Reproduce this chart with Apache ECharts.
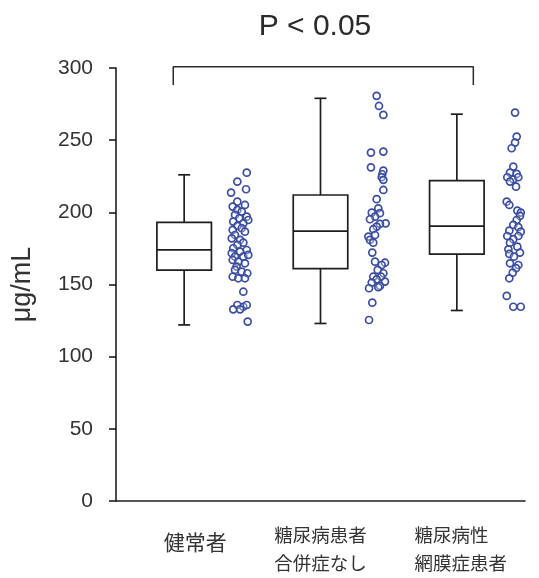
<!DOCTYPE html>
<html>
<head>
<meta charset="utf-8">
<script src="https://cdn.jsdelivr.net/npm/echarts@6/dist/echarts.min.js"></script>
<style>html,body{margin:0;padding:0;background:#fff}#c{width:539px;height:578px}</style>
</head>
<body>
<div id="c"></div>
<script>
// Categories and tick labels
const categories = ['健常者', '糖尿病患者\n合併症なし', '糖尿病性　\n網膜症患者'];
const yTicks = [0, 50, 100, 150, 200, 250, 300];
const titleText = 'P < 0.05';
const yName = 'μg/mL';

// Box statistics: [min, Q1, median, Q3, max]
const boxHealthy = [122, 160, 174, 193, 226];
const boxNoComp = [123, 161, 187, 212, 279];
const boxRetino = [132, 171, 190.5, 222, 268];

// Individual points (x = position on 0..3 band scale, y = value)
const healthyX = [0.959,0.890,0.954,0.844,0.890,0.946,0.856,0.890,0.922,0.873,0.959,0.970,0.904,0.860,0.934,0.890,0.922,0.856,0.946,0.873,0.849,0.910,0.934,0.890,0.860,0.959,0.910,0.849,0.873,0.934,0.970,0.856,0.897,0.946,0.885,0.873,0.922,0.963,0.856,0.897,0.946,0.934,0.890,0.934,0.959,0.860,0.910,0.966];
const healthyY = [227.5,221.3,216,213.7,207.4,205.1,204,201.7,200.5,198.2,197,194.7,195.9,193.6,192.4,190.6,189,187.8,186.6,184.3,182,180.9,179,177.4,175.1,173.9,172.8,171.7,169.3,169.3,170.5,167,165.8,164.7,162.4,160.1,158.9,157.8,155.4,154.3,154.3,145,135.8,134.6,135.8,132.8,132.8,124.3];

const noCompX = [1.912,1.929,1.961,1.870,1.961,1.870,1.961,1.953,1.949,1.961,1.961,1.912,1.924,1.876,1.936,1.900,1.863,1.978,1.936,1.912,1.887,1.851,1.900,1.863,1.887,1.880,1.900,1.973,1.949,1.920,1.961,1.887,1.944,1.912,1.973,1.876,1.936,1.856,1.924,1.880,1.856];
const noCompY = [280.7,273.7,267.5,241.4,242.1,231.2,228.9,226.4,224.3,222.5,215.5,209.1,202.8,199.8,199.4,197,195.2,192.4,192,190.1,188.3,183.2,184.3,180.9,179,172.1,165.8,165.1,163.5,160.1,157.8,155.4,155.4,153.6,152,151.3,149,147.4,148.1,137.4,125.4];

const retinoX = [2.927,2.939,2.927,2.902,2.914,2.890,2.939,2.870,2.914,2.951,2.890,2.934,2.866,2.885,2.944,2.969,2.963,2.939,2.914,2.951,2.885,2.969,2.870,2.951,2.914,2.890,2.944,2.878,2.963,2.885,2.919,2.890,2.951,2.934,2.910,2.885,2.866,2.914,2.969];
const retinoY = [269.1,252.5,248.3,244.4,231.7,227.5,226.6,224.3,222.9,224.3,221.3,217.8,207.4,205.1,201.2,199.8,197.5,194.7,191.3,189.7,187.3,186.6,183.6,183.6,181.4,179,176.2,174.4,172.1,171.2,169.3,164.7,163.5,161.3,158.2,154.3,142.1,134.6,134.6];

// Significance bracket (x on 0..3 band scale, y value)
const bracketX = [0.420, 0.420, 2.621, 2.621];
const bracketY = [288.3, 300.8, 300.8, 288.3];

const boxes = [boxHealthy, boxNoComp, boxRetino];
const boxData = boxes.map((b, i) => [i].concat(b));
const zip = (xs, ys) => xs.map((x, i) => [x, ys[i]]);
const pointData = zip(healthyX, healthyY).concat(zip(noCompX, noCompY), zip(retinoX, retinoY));

const INK = '#1e1e1e';
const JP = '"Noto Sans CJK JP", sans-serif';
const chart = echarts.init(document.getElementById('c'));
chart.setOption({
  animation: false,
  grid: { left: 116, right: 14, top: 68, bottom: 77, containLabel: false },
  graphic: [{
    type: 'text', x: 315, y: 27,
    style: { text: titleText, fill: '#2a2a2a', fontSize: 30, fontFamily: 'Liberation Sans, Arial, sans-serif', align: 'center', verticalAlign: 'middle' }
  }],
  xAxis: [{
    type: 'category', data: categories, boundaryGap: true,
    axisLine: { lineStyle: { color: INK, width: 1.6 } },
    axisTick: { show: false },
    axisLabel: {
      color: '#333', fontSize: 18.5, lineHeight: 28, margin: 20, fontFamily: JP, interval: 0,
      formatter: function (v, i) {
        if (i === 0) return '{a|' + v + '}';
        if (i === 2) return '{c|' + v.split('\n').join('}\n{c|') + '}';
        return v;
      },
      rich: {
        a: { fontSize: 21, color: '#333', fontFamily: JP, padding: [14, 0, 0, 22] },
        c: { fontSize: 18.5, lineHeight: 28, color: '#333', fontFamily: JP, padding: [0, 0, 0, 8] }
      }
    }
  }, {
    type: 'value', min: 0, max: 3, show: false
  }],
  yAxis: {
    type: 'value', min: yTicks[0], max: yTicks[yTicks.length - 1], interval: 50,
    name: yName, nameLocation: 'middle', nameRotate: 90, nameGap: 80,
    nameTextStyle: { color: '#333', fontSize: 27, fontFamily: 'Liberation Sans, Arial, sans-serif' },
    axisLine: { show: true, lineStyle: { color: INK, width: 1.6 } },
    axisTick: { show: true, length: 7, lineStyle: { color: INK, width: 1.6 } },
    axisLabel: { color: '#333', fontSize: 21, margin: 23, fontFamily: 'Liberation Sans, Arial, sans-serif' },
    splitLine: { show: false }
  },
  series: [{
    type: 'custom', xAxisIndex: 0, data: boxData,
    encode: { x: 0, y: [1, 2, 3, 4, 5] },
    renderItem: function (params, api) {
      const xi = api.value(0);
      const band = api.size([1, 0])[0];
      const bw = band * 0.40, cw = band * 0.088;
      const pMin = api.coord([xi, api.value(1)]);
      const pQ1 = api.coord([xi, api.value(2)]);
      const pMed = api.coord([xi, api.value(3)]);
      const pQ3 = api.coord([xi, api.value(4)]);
      const pMax = api.coord([xi, api.value(5)]);
      const cx = pMed[0];
      const st = { stroke: INK, lineWidth: 1.7, fill: null };
      return { type: 'group', children: [
        { type: 'line', shape: { x1: cx, y1: pQ3[1], x2: cx, y2: pMax[1] }, style: st },
        { type: 'line', shape: { x1: cx, y1: pQ1[1], x2: cx, y2: pMin[1] }, style: st },
        { type: 'line', shape: { x1: cx - cw / 2, y1: pMax[1], x2: cx + cw / 2, y2: pMax[1] }, style: st },
        { type: 'line', shape: { x1: cx - cw / 2, y1: pMin[1], x2: cx + cw / 2, y2: pMin[1] }, style: st },
        { type: 'rect', shape: { x: cx - bw / 2, y: pQ3[1], width: bw, height: pQ1[1] - pQ3[1] }, style: { stroke: INK, lineWidth: 1.7, fill: '#fff' } },
        { type: 'line', shape: { x1: cx - bw / 2, y1: pMed[1], x2: cx + bw / 2, y2: pMed[1] }, style: st }
      ]};
    }
  }, {
    type: 'scatter', xAxisIndex: 1, data: pointData,
    symbol: 'circle', symbolSize: 7,
    itemStyle: { color: 'rgba(255,255,255,0.3)', borderColor: '#3a4d9f', borderWidth: 1.7, opacity: 1 }
  }, {
    type: 'line', xAxisIndex: 1, data: zip(bracketX, bracketY),
    symbol: 'none', clip: false, silent: true,
    lineStyle: { color: '#2a2a2a', width: 1.5 }
  }]
});
</script>
</body>
</html>
